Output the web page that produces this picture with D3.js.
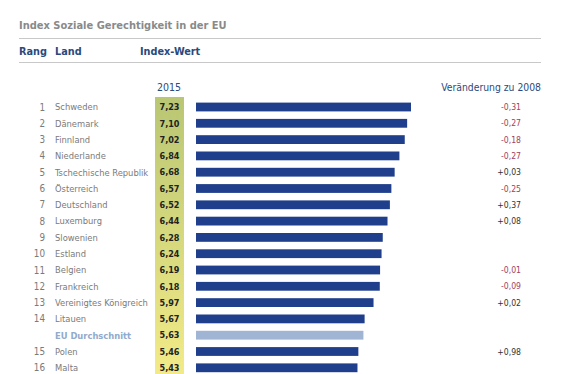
<!DOCTYPE html>
<html lang="de">
<head>
<meta charset="utf-8">
<script src="https://cdnjs.cloudflare.com/ajax/libs/d3/7.8.5/d3.min.js"></script>
<style>
    body { margin: 0; background: #fff; }
    svg text { font-family: "Liberation Sans Narrow", "DejaVu Sans Condensed", "Open Sans", sans-serif; }
</style>
</head>
<body>
<svg id="chart" width="561" height="374"></svg>
<script>
    // data
    const ranks = ["1", "2", "3", "4", "5", "6", "7", "8", "9", "10", "11", "12", "13", "14", "", "15", "16"];
    const countries = ["Schweden", "Dänemark", "Finnland", "Niederlande", "Tschechische Republik", "Österreich",
        "Deutschland", "Luxemburg", "Slowenien", "Estland", "Belgien", "Frankreich",
        "Vereinigtes Königreich", "Litauen", "EU Durchschnitt", "Polen", "Malta"];
    const values2015 = [7.23, 7.10, 7.02, 6.84, 6.68, 6.57, 6.52, 6.44, 6.28, 6.24, 6.19, 6.18, 5.97, 5.67, 5.63, 5.46, 5.43];
    const changes = [-0.31, -0.27, -0.18, -0.27, 0.03, -0.25, 0.37, 0.08, null, null, -0.01, -0.09, 0.02, null, null, 0.98, null];
    const avgLabel = "EU Durchschnitt";

    const rows = countries.map((c, i) => ({ rank: ranks[i], land: c, value: values2015[i], change: changes[i] }));

    const de = d3.formatLocale({ decimal: ",", thousands: ".", grouping: [3], currency: ["", " €"], minus: "-" });
    const fmt = de.format(".2f");
    const fmtChange = de.format("+.2f");

    const svg = d3.select("#chart");

    const y = d3.scaleBand()
        .domain(rows.map(d => d.land))
        .range([98.85, 98.85 + rows.length * 16.3])
        .paddingInner(0.46)
        .paddingOuter(0.23);

    const x = d3.scaleLinear()
        .domain([0, d3.max(values2015)])
        .range([196, 411]);

    // title and header
    svg.append("text").attr("x", 19).attr("y", 29)
        .attr("font-size", 11).attr("font-weight", "bold").attr("fill", "#8a8a8a")
        .text("Index Soziale Gerechtigkeit in der EU");

    svg.append("line").attr("x1", 19).attr("x2", 541).attr("y1", 38.5).attr("y2", 38.5)
        .attr("stroke", "#c8c8c8").attr("stroke-width", 1.2);
    svg.append("line").attr("x1", 19).attr("x2", 541).attr("y1", 62.5).attr("y2", 62.5)
        .attr("stroke", "#c8c8c8").attr("stroke-width", 1.2);

    const head = svg.append("g").attr("font-size", 10.8).attr("font-weight", "bold").attr("fill", "#2b4a7c");
    head.append("text").attr("x", 19).attr("y", 55).text("Rang");
    head.append("text").attr("x", 55).attr("y", 55).text("Land");
    head.append("text").attr("x", 140).attr("y", 55).text("Index-Wert");

    svg.append("text").attr("x", 169).attr("y", 91).attr("text-anchor", "middle")
        .attr("font-size", 10.5).attr("fill", "#2b4a7c").text("2015");
    svg.append("text").attr("x", 541).attr("y", 91).attr("text-anchor", "end")
        .attr("font-size", 10.3).attr("fill", "#2b4a7c").text("Veränderung zu 2008");

    // value column background
    const grad = svg.append("defs").append("linearGradient")
        .attr("id", "col").attr("x1", 0).attr("x2", 0).attr("y1", 0).attr("y2", 1);
    grad.append("stop").attr("offset", "0%").attr("stop-color", "#b9c673");
    grad.append("stop").attr("offset", "100%").attr("stop-color", "#f5ec88");
    svg.append("rect").attr("x", 155).attr("y", 97).attr("width", 29).attr("height", 290)
        .attr("fill", "url(#col)");

    const row = svg.append("g").selectAll("g")
        .data(rows)
        .join("g")
        .attr("transform", d => "translate(0," + (y(d.land) + y.bandwidth() / 2) + ")");

    row.append("text")
        .attr("x", 45).attr("dy", "0.36em").attr("text-anchor", "end")
        .attr("font-size", 9.8).attr("fill", "#7a7a7a")
        .text(d => d.rank);

    row.append("text")
        .attr("x", 55).attr("dy", "0.36em")
        .attr("font-size", 9.3)
        .attr("font-weight", d => d.land === avgLabel ? "bold" : "normal")
        .attr("fill", d => d.land === avgLabel ? "#92aacb" : "#7a7a7a")
        .text(d => d.land);

    row.append("text")
        .attr("x", 169.5).attr("dy", "0.36em").attr("text-anchor", "middle")
        .attr("font-size", 9).attr("font-weight", "bold").attr("fill", "#222")
        .text(d => fmt(d.value));

    svg.append("g").selectAll("rect")
        .data(rows)
        .join("rect")
        .attr("x", x(0))
        .attr("y", d => y(d.land))
        .attr("width", d => x(d.value) - x(0))
        .attr("height", y.bandwidth())
        .attr("fill", d => d.land === avgLabel ? "#9fb5d3" : "#1f3f8c");

    row.filter(d => d.change !== null).append("text")
        .attr("x", 521).attr("dy", "0.36em").attr("text-anchor", "end")
        .attr("font-size", 8.6)
        .attr("fill", d => d.change < 0 ? "#a3405e" : "#333")
        .text(d => fmtChange(d.change));
</script>
</body>
</html>
